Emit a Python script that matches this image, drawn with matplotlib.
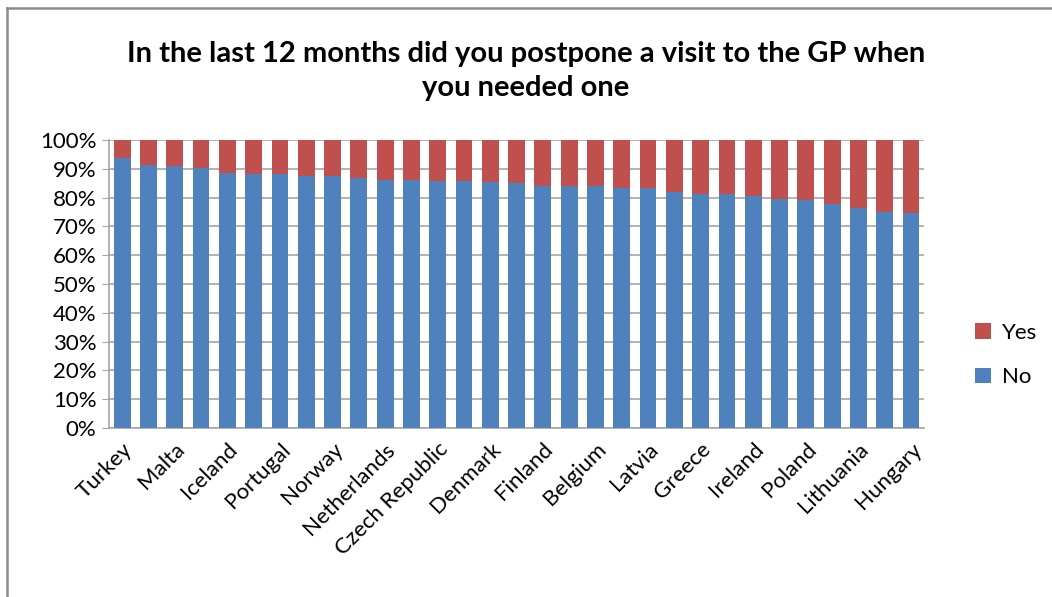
import matplotlib
matplotlib.use("Agg")
import matplotlib.pyplot as plt
from matplotlib.patches import Patch
from matplotlib.lines import Line2D
import numpy as np

plt.rcParams['font.family'] = ['Lato', 'DejaVu Sans']

# 31 categories; only every other one is labelled in the original chart
shown_labels = ["Turkey", "Malta", "Iceland", "Portugal", "Norway", "Netherlands",
                "Czech Republic", "Denmark", "Finland", "Belgium", "Latvia",
                "Greece", "Ireland", "Poland", "Lithuania", "Hungary"]
no_pct = [93.6, 91.2, 90.9, 90.3, 88.5, 88.2, 88.2, 87.6, 87.6, 86.8, 86.2,
          86.2, 85.8, 85.8, 85.4, 84.9, 84.1, 84.1, 84.1, 83.5, 83.2, 81.9,
          81.3, 81.3, 80.5, 79.6, 79.2, 77.8, 76.4, 75.1, 74.6]
yes_pct = [100 - v for v in no_pct]
y_ticks = list(range(0, 101, 10))

blue = "#4F81BD"
red = "#C0504D"
grid_c = "#A6A6A6"

fig = plt.figure(figsize=(10.52, 5.97), dpi=100)
ax = fig.add_axes([0.1036, 0.283, 0.8785 - 0.1036, 0.7655 - 0.283])

x = np.arange(len(no_pct))
ax.bar(x, no_pct, width=0.64, color=blue, zorder=3, label="No")
ax.bar(x, yes_pct, bottom=no_pct, width=0.64, color=red, zorder=3, label="Yes")

ax.set_xlim(-0.5, len(no_pct) - 0.5)
ax.set_ylim(0, 100)
ax.set_yticks(y_ticks)
ax.set_yticklabels([f"{t}%" for t in y_ticks], fontsize=16)
ax.yaxis.grid(True, color=grid_c, linewidth=1.2, zorder=0)
ax.tick_params(axis='y', length=5, color=grid_c, pad=4)

ax.set_xticks(x[::2])
ax.set_xticklabels(shown_labels, rotation=45, ha='right', rotation_mode='anchor',
                   fontsize=16)
ax.tick_params(axis='x', length=0, pad=8)

for s in ['top', 'right']:
    ax.spines[s].set_visible(False)
for s in ['left', 'bottom']:
    ax.spines[s].set_color(grid_c)
    ax.spines[s].set_linewidth(1.2)

fig.text(0.5, 0.881, "In the last 12 months did you postpone a visit to the GP when\nyou needed one",
         ha='center', va='center', fontsize=21, fontweight='bold', linespacing=1.35)

handles = [Patch(facecolor=red, label="Yes"), Patch(facecolor=blue, label="No")]
fig.legend(handles=handles, loc='center left', bbox_to_anchor=(0.908, 0.405),
           frameon=False, fontsize=16, handlelength=0.7, handleheight=0.7,
           handletextpad=0.5, labelspacing=1.1)

# outer chart border (left and top visible)
fig.add_artist(Line2D([0.0070, 0.0070], [0, 0.9866], transform=fig.transFigure,
                      color="#8C8C8C", linewidth=1.8))
fig.add_artist(Line2D([0.0070, 1.0], [0.9866, 0.9866], transform=fig.transFigure,
                      color="#8C8C8C", linewidth=1.8))

fig.savefig("out.png", dpi=100)
